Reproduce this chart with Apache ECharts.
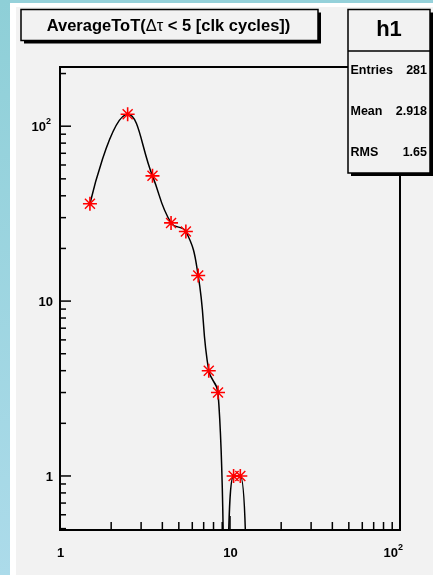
<!DOCTYPE html>
<html>
<head>
<meta charset="utf-8">
<script src="https://cdn.jsdelivr.net/npm/echarts@6/dist/echarts.min.js"></script>
<style>
  html, body { margin: 0; padding: 0; background: #f2f2f2; }
  #chart { width: 433px; height: 575px; }
</style>
</head>
<body>
<div id="chart"></div>
<script>
// Histogram h1: average ToT of hits with delta-tau below 5 clock cycles
const binCenters = [1.5, 2.5, 3.5, 4.5, 5.5, 6.5, 7.5, 8.5, 9.5, 10.5, 11.5, 12.5];
const binCounts  = [36, 117, 52, 28, 25, 14, 4, 3, 0, 1, 1, 0];

const xTickLabels = [
  { v: 1, base: '1' },
  { v: 10, base: '10' },
  { v: 100, base: '10', exp: '2' }
];
const yTickLabels = [
  { v: 1, base: '1' },
  { v: 10, base: '10' },
  { v: 100, base: '10', exp: '2' }
];

const titleParts = ['AverageToT(', '\u0394\u03c4', ' < 5 [clk cycles])'];
const statsName = 'h1';
const statsRows = [['Entries', '281'], ['Mean', '2.918'], ['RMS', '1.65']];

const X_RANGE = [1, 100];
const Y_RANGE = [0.491, 218];
// A log axis has no zero: empty bins send the curve just under the frame.
const EMPTY_LEVEL = 0.22;

const FONT_FAMILY = '"Liberation Sans", Arial, Helvetica, sans-serif';

// Minor/major log ticks: 1..9 times each power of ten inside the range
function logTicks(range) {
  const out = [];
  const lo = Math.floor(Math.log10(range[0]));
  const hi = Math.ceil(Math.log10(range[1]));
  for (let e = lo; e <= hi; e++) {
    for (let m = 1; m <= 9; m++) {
      const v = m * Math.pow(10, e);
      if (v >= range[0] * 0.999 && v <= range[1] * 1.001) out.push([v, m === 1 ? 1 : 0]);
    }
  }
  return out;
}
const xTicks = logTicks(X_RANGE);
const yTicks = logTicks(Y_RANGE);

// ROOT "*" marker: eight spokes
const STAR = 'path://M-7,-0.8H7V0.8H-7Z M-0.8,-7H0.8V7H-0.8Z ' +
  'M-5.5,-4.5L-4.5,-5.5L5.5,4.5L4.5,5.5Z M4.5,-5.5L5.5,-4.5L-4.5,5.5L-5.5,4.5Z';

function tickItem(axis) {
  return function (params, api) {
    const p = api.coord([api.value(0), api.value(1)]);
    const major = api.value(2) === 1;
    let shape;
    if (axis === 'x') {
      const len = major ? 14 : 8;
      shape = { x1: p[0], y1: p[1], x2: p[0], y2: p[1] - len };
    } else {
      const len = major ? 11 : 6;
      shape = { x1: p[0], y1: p[1], x2: p[0] + len, y2: p[1] };
    }
    return { type: 'line', shape: shape, style: { stroke: '#000', lineWidth: 1.5 } };
  };
}

function txt(text, x, y, size, align) {
  return {
    type: 'text',
    style: {
      text: text, x: x, y: y,
      font: 'bold ' + size + 'px ' + FONT_FAMILY,
      align: align, textAlign: align,
      verticalAlign: 'middle', textVerticalAlign: 'middle',
      fill: '#000'
    }
  };
}

function labelItem(labels, axis) {
  return function (params, api) {
    const t = labels[params.dataIndex];
    const p = api.coord([api.value(0), api.value(1)]);
    const children = [];
    if (axis === 'x') {
      const y = p[1] + 23;
      if (t.exp) {
        children.push(txt(t.base, p[0] - 2, y, 13, 'right'));
        children.push(txt(t.exp, p[0] - 2, y - 5, 9, 'left'));
      } else {
        children.push(txt(t.base, p[0] + 0.5, y, 13, 'center'));
      }
    } else {
      const right = p[0] - 7;
      const y = p[1] + 1;
      if (t.exp) {
        children.push(txt(t.base, right - 7, y, 13, 'right'));
        children.push(txt(t.exp, right - 7, y - 6, 9, 'left'));
      } else {
        children.push(txt(t.base, right, y, 13, 'right'));
      }
    }
    return { type: 'group', children: children };
  };
}

const chart = echarts.init(document.getElementById('chart'), null, { renderer: 'canvas' });

const panel = '#f2f2f2';
const graphics = [
  // backdrop strips
  { type: 'rect', z: -10, shape: { x: 0, y: 0, width: 433, height: 3 }, style: { fill: '#95d1da' } },
  { type: 'rect', z: -10, shape: { x: 10, y: 3, width: 423, height: 4 }, style: { fill: '#ffffff' } },
  { type: 'rect', z: -10, shape: { x: 10, y: 3, width: 6, height: 572 }, style: { fill: '#ffffff' } },
  {
    type: 'rect', z: -10, shape: { x: 0, y: 0, width: 10, height: 575 },
    style: {
      fill: new echarts.graphic.LinearGradient(0, 0, 0, 1, [
        { offset: 0, color: '#8ecfd7' },
        { offset: 1, color: '#acdbea' }
      ])
    }
  },
  // title box
  { type: 'rect', z: 100, shape: { x: 24, y: 12.5, width: 297, height: 31 }, style: { fill: '#000' } },
  { type: 'rect', z: 101, shape: { x: 21, y: 9.5, width: 297, height: 31 }, style: { fill: panel, stroke: '#000', lineWidth: 1.5 } },
  {
    type: 'text', z: 102,
    style: {
      text: '{b|' + titleParts[0] + '}{n|' + titleParts[1] + '}{b|' + titleParts[2] + '}',
      x: 168.5, y: 26,
      align: 'center', textAlign: 'center',
      verticalAlign: 'middle', textVerticalAlign: 'middle',
      fill: '#000',
      rich: {
        b: { fontWeight: 'bold', fontSize: 16.5, fontFamily: FONT_FAMILY, fill: '#000' },
        n: { fontWeight: 'normal', fontSize: 16.5, fontFamily: FONT_FAMILY, fill: '#000' }
      }
    }
  },
  // statistics box
  { type: 'rect', z: 100, shape: { x: 351, y: 12.5, width: 82, height: 163.5 }, style: { fill: '#000' } },
  { type: 'rect', z: 101, shape: { x: 348, y: 9.5, width: 82, height: 163.5 }, style: { fill: panel, stroke: '#000', lineWidth: 1.5 } },
  { type: 'line', z: 102, shape: { x1: 348, y1: 51, x2: 430, y2: 51 }, style: { stroke: '#000', lineWidth: 1.5 } },
  Object.assign(txt(statsName, 389, 30, 22, 'center'), { z: 102 })
];
statsRows.forEach(function (row, i) {
  const y = 71 + i * 41;
  graphics.push(Object.assign(txt(row[0], 350.5, y, 12.5, 'left'), { z: 102 }));
  graphics.push(Object.assign(txt(row[1], 427, y, 12.5, 'right'), { z: 102 }));
});

chart.setOption({
  animation: false,
  backgroundColor: panel,
  grid: {
    left: 60, top: 67, width: 340, height: 463,
    show: true, borderColor: '#000', borderWidth: 2, backgroundColor: 'transparent'
  },
  xAxis: {
    type: 'log', logBase: 10, min: X_RANGE[0], max: X_RANGE[1],
    axisLine: { show: false }, axisTick: { show: false },
    axisLabel: { show: false }, splitLine: { show: false }
  },
  yAxis: {
    type: 'log', logBase: 10, min: Y_RANGE[0], max: Y_RANGE[1],
    axisLine: { show: false }, axisTick: { show: false },
    axisLabel: { show: false }, splitLine: { show: false }
  },
  graphic: { elements: graphics },
  series: [
    {
      type: 'custom', name: 'xTicks', z: 4,
      renderItem: tickItem('x'),
      data: xTicks.map(function (t) { return [t[0], Y_RANGE[0], t[1]]; })
    },
    {
      type: 'custom', name: 'yTicks', z: 4,
      renderItem: tickItem('y'),
      data: yTicks.map(function (t) { return [X_RANGE[0], t[0], t[1]]; })
    },
    {
      type: 'custom', name: 'xLabels', z: 4,
      renderItem: labelItem(xTickLabels, 'x'),
      data: xTickLabels.map(function (t) { return [t.v, Y_RANGE[0]]; })
    },
    {
      type: 'custom', name: 'yLabels', z: 4,
      renderItem: labelItem(yTickLabels, 'y'),
      data: yTickLabels.map(function (t) { return [X_RANGE[0], t.v]; })
    },
    {
      type: 'line', name: 'h1', z: 5,
      clip: true,
      smooth: 0.45,
      showAllSymbol: true,
      symbolSize: 14,
      lineStyle: { color: '#000', width: 1.5 },
      itemStyle: { color: '#ff0000' },
      data: binCenters.map(function (x, i) {
        const c = binCounts[i];
        return { value: [x, c > 0 ? c : EMPTY_LEVEL], symbol: c > 0 ? STAR : 'none' };
      })
    }
  ]
});
</script>
</body>
</html>
